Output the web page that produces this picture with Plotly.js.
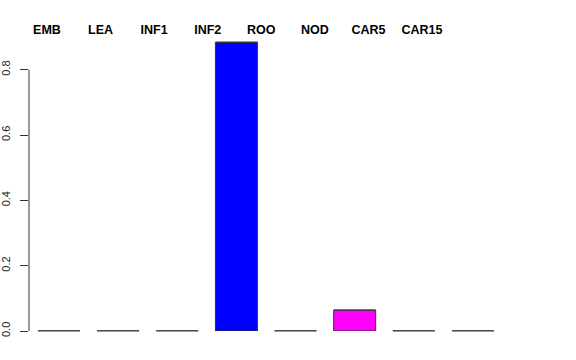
<!DOCTYPE html>
<html>
<head>
<meta charset="utf-8">
<script src="https://cdn.plot.ly/plotly-3.0.1.min.js"></script>
<style>html,body{margin:0;padding:0;background:#fff;}#chart{width:576px;height:360px;}</style>
</head>
<body>
<div id="chart"></div>
<script>
var categories = ['EMB', 'LEA', 'INF1', 'INF2', 'ROO', 'NOD', 'CAR5', 'CAR15'];
var values = [0, 0, 0, 0.884, 0, 0.064, 0, 0];
var barColors = ['#ffffff', '#ffffff', '#ffffff', '#0000ff', '#ffffff', '#ff00ff', '#ffffff', '#ffffff'];
var yTicks = [0, 0.2, 0.4, 0.6, 0.8];
var yTickLabels = ['0.0', '0.2', '0.4', '0.6', '0.8'];

var outline = '#333333';

var bars = {
  type: 'bar',
  x: categories,
  y: values,
  marker: {color: barColors, line: {color: outline, width: 1}},
  hoverinfo: 'skip',
  showlegend: false
};
// zero-height bars drawn as flat lines at their value
var flats = {
  type: 'scatter',
  mode: 'markers',
  x: categories,
  y: values,
  marker: {symbol: 'line-ew', size: 30, color: outline, line: {color: outline, width: 1}},
  hoverinfo: 'skip',
  showlegend: false,
  cliponaxis: false
};
var topLabels = {
  type: 'scatter',
  mode: 'markers',
  x: categories,
  y: values,
  xaxis: 'x2',
  marker: {opacity: 0},
  hoverinfo: 'skip',
  showlegend: false
};

var layout = {
  width: 576,
  height: 360,
  margin: {l: 29, r: 63, t: 37, b: 29, pad: 0},
  paper_bgcolor: '#ffffff',
  plot_bgcolor: '#ffffff',
  bargap: 0.29,
  xaxis: {
    type: 'category',
    range: [-0.507, 7.677],
    showticklabels: false,
    showline: false,
    showgrid: false,
    zeroline: false,
    ticks: ''
  },
  xaxis2: {
    type: 'category',
    overlaying: 'x',
    side: 'top',
    range: [-0.336, 8.699],
    showline: false,
    showgrid: false,
    zeroline: false,
    ticks: '',
    ticklabelstandoff: 0,
    tickfont: {family: 'Liberation Sans, Arial, sans-serif', size: 12.5, weight: 'bold', color: '#000000'}
  },
  yaxis: {
    range: [0, 0.9],
    tickvals: yTicks,
    ticktext: yTickLabels,
    ticks: 'outside',
    ticklen: 8,
    tickwidth: 1,
    tickcolor: outline,
    tickangle: -90,
    ticklabelstandoff: 6,
    showline: false,
    showgrid: false,
    zeroline: false,
    tickfont: {family: 'Liberation Sans, Arial, sans-serif', size: 11, color: '#222222'}
  },
  shapes: [{
    type: 'line', xref: 'paper', yref: 'y',
    x0: 0, x1: 0, y0: yTicks[0], y1: yTicks[yTicks.length - 1],
    line: {color: outline, width: 1}
  }]
};

Plotly.newPlot('chart', [bars, flats, topLabels], layout, {staticPlot: true, displayModeBar: false});
</script>
</body>
</html>
